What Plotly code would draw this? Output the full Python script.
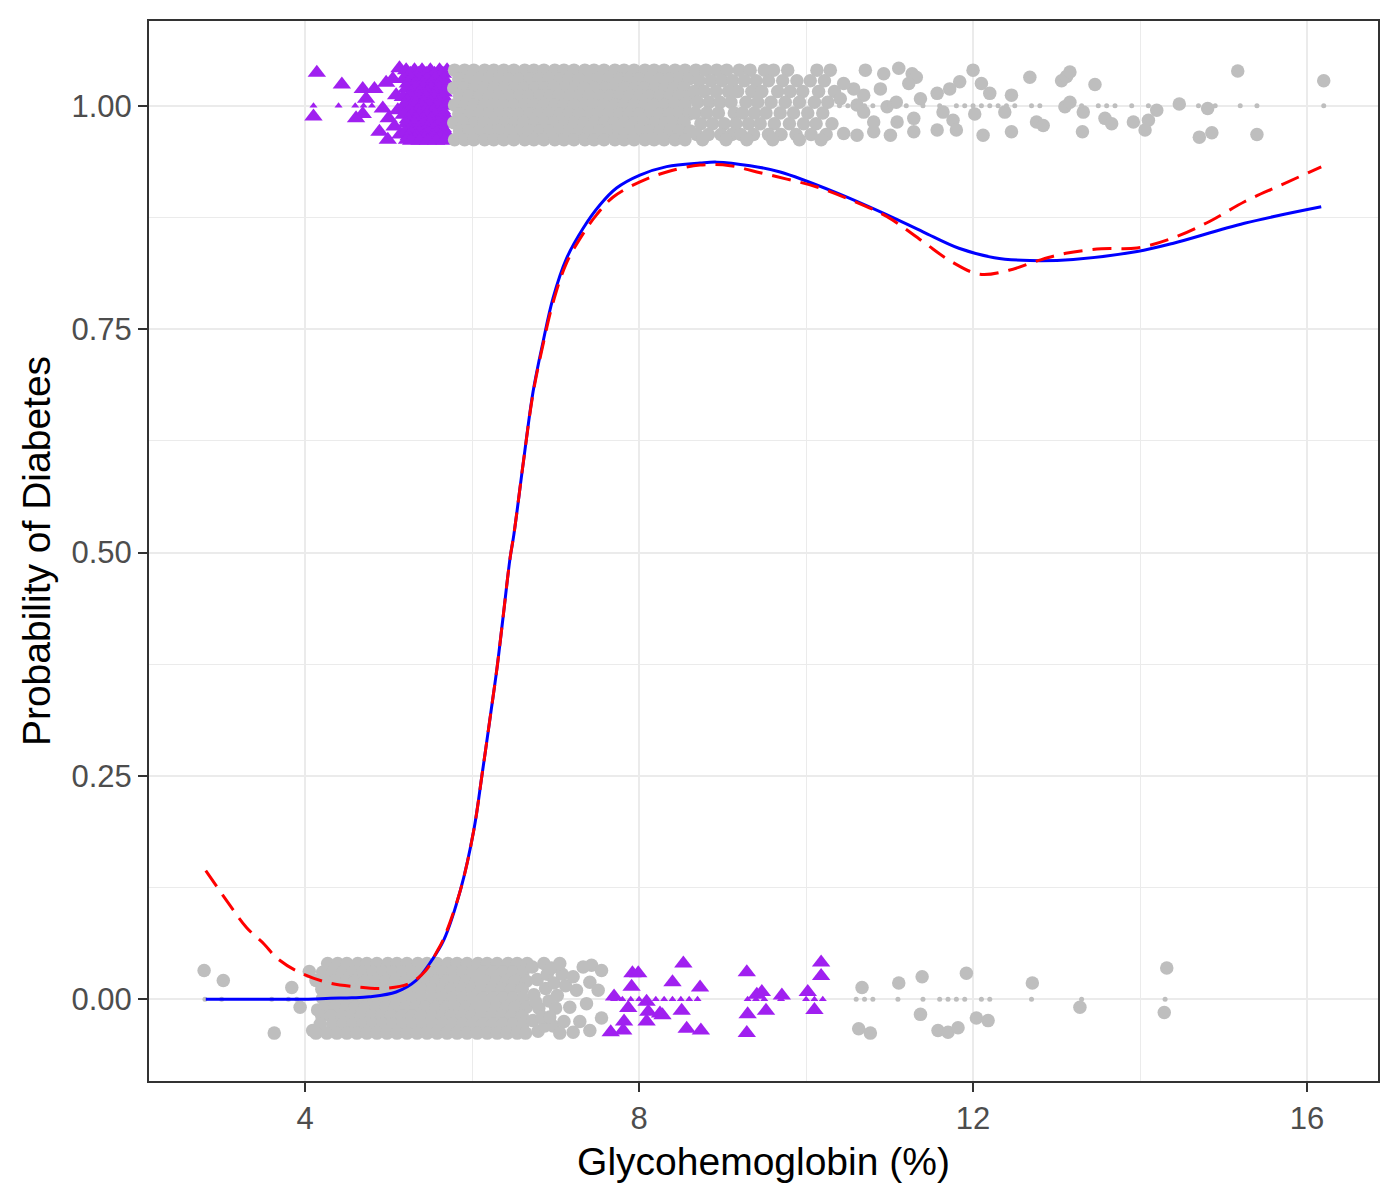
import plotly.graph_objects as go

# recorded glycohemoglobin values, drawn as small marks on y = 0 / 1
obs_top_purple_x = [4.1, 4.4, 4.6, 4.7, 4.8]
obs_top_gray_x = [10.4, 10.5, 10.6, 10.7, 10.8, 11.0, 11.2, 11.4, 11.6, 11.8, 11.9, 12.0,
                  12.1, 12.2, 12.3, 12.4, 12.5, 12.7, 12.8, 13.3, 13.5, 13.6, 13.7, 13.9,
                  14.1, 14.7, 14.9, 15.2, 15.4, 16.2]
obs_bot_gray_x = [2.8, 3.0, 3.6, 3.8, 3.9, 10.6, 10.7, 10.8, 11.1, 11.4, 11.6, 11.7, 11.8,
                  11.9, 12.1, 12.2, 12.7, 13.3, 14.3]
obs_bot_purple_x = [7.7, 7.8, 7.9, 8.0, 8.2, 8.3, 8.4, 8.5, 8.6, 8.7, 9.3, 9.4, 9.5, 9.7,
                    10.0, 10.1, 10.2]

# jittered copies (x, y)
jit_top_purple = [
    (4.14, 1.037), (4.10, 0.988), (4.44, 1.024), (4.69, 1.019), (4.83, 1.019), (4.97, 1.026),
    (4.73, 1.008), (4.61, 0.986), (4.69, 0.991), (4.93, 0.997), (4.89, 0.971), (4.99, 0.962),
    (5.00, 0.986), (5.09, 1.012), (5.13, 1.042), (5.07, 0.977), (5.05, 1.030), (5.11, 0.995),
    (5.14, 0.968),
    (5.21, 1.040), (5.31, 1.040), (5.40, 1.040), (5.50, 1.040), (5.61, 1.040), (5.70, 1.040),
    (5.26, 1.036), (5.36, 1.036), (5.45, 1.036), (5.55, 1.036), (5.65, 1.036),
    (5.18, 1.030), (5.27, 1.030), (5.36, 1.030), (5.46, 1.030), (5.56, 1.030), (5.66, 1.030),
    (5.23, 1.025), (5.32, 1.025), (5.41, 1.025), (5.51, 1.025), (5.61, 1.025), (5.70, 1.025),
    (5.22, 1.020), (5.32, 1.020), (5.41, 1.020), (5.51, 1.020), (5.60, 1.020), (5.71, 1.020),
    (5.27, 1.015), (5.37, 1.015), (5.46, 1.015), (5.56, 1.015), (5.66, 1.015),
    (5.17, 1.010), (5.26, 1.010), (5.37, 1.010), (5.45, 1.010), (5.55, 1.010), (5.65, 1.010),
    (5.22, 1.005), (5.31, 1.005), (5.42, 1.005), (5.50, 1.005), (5.60, 1.005), (5.70, 1.005),
    (5.20, 1.000), (5.30, 1.000), (5.40, 1.000), (5.49, 1.000), (5.59, 1.000), (5.69, 1.000),
    (5.25, 0.995), (5.35, 0.995), (5.44, 0.995), (5.54, 0.995), (5.64, 0.995),
    (5.18, 0.990), (5.28, 0.990), (5.36, 0.990), (5.46, 0.990), (5.56, 0.990), (5.66, 0.990),
    (5.23, 0.985), (5.33, 0.985), (5.41, 0.985), (5.51, 0.985), (5.61, 0.985), (5.71, 0.985),
    (5.21, 0.980), (5.31, 0.980), (5.41, 0.980), (5.50, 0.980), (5.60, 0.980), (5.70, 0.980),
    (5.26, 0.975), (5.36, 0.975), (5.46, 0.975), (5.55, 0.975), (5.65, 0.975),
    (5.19, 0.970), (5.27, 0.970), (5.37, 0.970), (5.47, 0.970), (5.57, 0.970), (5.67, 0.970),
    (5.24, 0.966), (5.33, 0.966), (5.42, 0.966), (5.52, 0.966), (5.62, 0.966), (5.71, 0.966),
    (5.22, 0.962), (5.32, 0.962), (5.42, 0.962), (5.52, 0.962), (5.62, 0.962), (5.71, 0.962),
    (5.27, 0.961), (5.37, 0.961), (5.47, 0.961), (5.57, 0.961), (5.67, 0.961),
]

jit_top_gray = [
    # dense block
    (5.79, 1.040), (5.91, 1.040), (6.02, 1.040), (6.15, 1.040), (6.26, 1.040), (6.38, 1.040),
    (6.50, 1.040), (6.63, 1.040), (6.74, 1.040), (6.86, 1.040), (6.99, 1.040), (7.10, 1.040),
    (7.22, 1.040), (7.35, 1.040), (7.46, 1.040), (7.58, 1.040), (7.71, 1.040), (7.82, 1.040),
    (7.94, 1.040), (8.07, 1.040), (8.18, 1.040), (8.30, 1.040), (8.43, 1.040), (8.55, 1.040),
    (5.84, 1.030), (5.97, 1.030), (6.08, 1.030), (6.20, 1.030), (6.33, 1.030), (6.44, 1.030),
    (6.56, 1.030), (6.69, 1.030), (6.80, 1.030), (6.92, 1.030), (7.05, 1.030), (7.16, 1.030),
    (7.28, 1.030), (7.41, 1.030), (7.52, 1.030), (7.64, 1.030), (7.77, 1.030), (7.88, 1.030),
    (8.00, 1.030), (8.13, 1.030), (8.24, 1.030), (8.36, 1.030), (8.49, 1.030), (8.60, 1.030),
    (5.78, 1.020), (5.90, 1.020), (6.03, 1.020), (6.14, 1.020), (6.27, 1.020), (6.39, 1.020),
    (6.51, 1.020), (6.62, 1.020), (6.75, 1.020), (6.87, 1.020), (6.98, 1.020), (7.11, 1.020),
    (7.23, 1.020), (7.34, 1.020), (7.47, 1.020), (7.59, 1.020), (7.70, 1.020), (7.83, 1.020),
    (7.95, 1.020), (8.06, 1.020), (8.19, 1.020), (8.31, 1.020), (8.42, 1.020), (8.54, 1.020),
    (5.85, 1.011), (5.96, 1.011), (6.09, 1.011), (6.21, 1.011), (6.32, 1.011), (6.45, 1.011),
    (6.57, 1.011), (6.68, 1.011), (6.81, 1.011), (6.93, 1.011), (7.04, 1.011), (7.17, 1.011),
    (7.29, 1.011), (7.40, 1.011), (7.53, 1.011), (7.65, 1.011), (7.76, 1.011), (7.89, 1.011),
    (8.01, 1.011), (8.12, 1.011), (8.25, 1.011), (8.37, 1.011), (8.48, 1.011), (8.61, 1.011),
    (5.79, 1.001), (5.91, 1.001), (6.02, 1.001), (6.15, 1.001), (6.26, 1.001), (6.38, 1.001),
    (6.50, 1.001), (6.63, 1.001), (6.74, 1.001), (6.86, 1.001), (6.99, 1.001), (7.10, 1.001),
    (7.22, 1.001), (7.35, 1.001), (7.46, 1.001), (7.58, 1.001), (7.71, 1.001), (7.82, 1.001),
    (7.94, 1.001), (8.07, 1.001), (8.18, 1.001), (8.30, 1.001), (8.43, 1.001), (8.55, 1.001),
    (5.84, 0.991), (5.97, 0.991), (6.08, 0.991), (6.20, 0.991), (6.33, 0.991), (6.44, 0.991),
    (6.56, 0.991), (6.69, 0.991), (6.80, 0.991), (6.92, 0.991), (7.05, 0.991), (7.16, 0.991),
    (7.28, 0.991), (7.41, 0.991), (7.52, 0.991), (7.64, 0.991), (7.77, 0.991), (7.88, 0.991),
    (8.00, 0.991), (8.13, 0.991), (8.24, 0.991), (8.36, 0.991), (8.49, 0.991), (8.60, 0.991),
    (5.78, 0.981), (5.90, 0.981), (6.03, 0.981), (6.14, 0.981), (6.27, 0.981), (6.39, 0.981),
    (6.51, 0.981), (6.62, 0.981), (6.75, 0.981), (6.87, 0.981), (6.98, 0.981), (7.11, 0.981),
    (7.23, 0.981), (7.34, 0.981), (7.47, 0.981), (7.59, 0.981), (7.70, 0.981), (7.83, 0.981),
    (7.95, 0.981), (8.06, 0.981), (8.19, 0.981), (8.31, 0.981), (8.42, 0.981), (8.54, 0.981),
    (5.85, 0.972), (5.96, 0.972), (6.09, 0.972), (6.21, 0.972), (6.32, 0.972), (6.45, 0.972),
    (6.57, 0.972), (6.68, 0.972), (6.81, 0.972), (6.93, 0.972), (7.04, 0.972), (7.17, 0.972),
    (7.29, 0.972), (7.40, 0.972), (7.53, 0.972), (7.65, 0.972), (7.76, 0.972), (7.89, 0.972),
    (8.01, 0.972), (8.12, 0.972), (8.25, 0.972), (8.37, 0.972), (8.48, 0.972), (8.61, 0.972),
    (5.79, 0.962), (5.91, 0.962), (6.02, 0.962), (6.15, 0.962), (6.26, 0.962), (6.38, 0.962),
    (6.50, 0.962), (6.63, 0.962), (6.74, 0.962), (6.86, 0.962), (6.99, 0.962), (7.10, 0.962),
    (7.22, 0.962), (7.35, 0.962), (7.46, 0.962), (7.58, 0.962), (7.71, 0.962), (7.82, 0.962),
    (7.94, 0.962), (8.07, 0.962), (8.18, 0.962), (8.30, 0.962), (8.43, 0.962), (8.55, 0.962),
    # thinning out
    (8.68, 1.040), (8.80, 1.040), (8.93, 1.040), (9.05, 1.040), (9.20, 1.040), (9.33, 1.040),
    (9.50, 1.040), (9.61, 1.040), (9.78, 1.040), (10.13, 1.040), (10.29, 1.040),
    (8.72, 1.028), (8.86, 1.028), (8.99, 1.028), (9.12, 1.028), (9.26, 1.028), (9.40, 1.028),
    (9.55, 1.028), (9.72, 1.028), (9.89, 1.028), (10.05, 1.028), (10.22, 1.028),
    (8.66, 1.016), (8.78, 1.016), (8.92, 1.016), (9.07, 1.016), (9.18, 1.016), (9.35, 1.016),
    (9.47, 1.016), (9.66, 1.016), (9.81, 1.016), (9.96, 1.016), (10.15, 1.016), (10.34, 1.016),
    (8.70, 1.004), (8.84, 1.004), (8.97, 1.004), (9.10, 1.004), (9.28, 1.004), (9.42, 1.004),
    (9.58, 1.004), (9.75, 1.004), (9.92, 1.004), (10.10, 1.004), (10.26, 1.004),
    (8.67, 0.992), (8.81, 0.992), (8.95, 0.992), (9.14, 0.992), (9.24, 0.992), (9.38, 0.992),
    (9.52, 0.992), (9.69, 0.992), (9.85, 0.992), (10.02, 0.992), (10.20, 0.992),
    (8.74, 0.980), (8.88, 0.980), (9.02, 0.980), (9.16, 0.980), (9.31, 0.980), (9.45, 0.980),
    (9.62, 0.980), (9.80, 0.980), (9.97, 0.980), (10.12, 0.980), (10.31, 0.980),
    (8.69, 0.968), (8.83, 0.968), (8.98, 0.968), (9.11, 0.968), (9.22, 0.968), (9.37, 0.968),
    (9.55, 0.968), (9.70, 0.968), (9.88, 0.968), (10.06, 0.968), (10.24, 0.968),
    (8.76, 0.962), (9.04, 0.962), (9.29, 0.962), (9.60, 0.962), (9.92, 0.962), (10.18, 0.962),
    # sparse tail
    (10.71, 1.040), (10.93, 1.036), (11.11, 1.042), (11.27, 1.036), (11.32, 1.032), (12.00, 1.040),
    (12.68, 1.032), (11.23, 1.025), (10.89, 1.019), (12.10, 1.025), (12.20, 1.014), (12.46, 1.012),
    (11.84, 1.027), (11.72, 1.019), (11.57, 1.014), (11.37, 1.008), (11.08, 1.004), (10.97, 0.999),
    (10.69, 1.012), (10.57, 1.019), (10.45, 1.025), (10.41, 1.008), (10.61, 1.001), (10.69, 0.993),
    (10.81, 0.982), (11.09, 0.982), (11.29, 0.986), (11.64, 0.993), (11.76, 0.984), (12.02, 0.991),
    (12.38, 0.993), (11.80, 0.973), (12.12, 0.967), (12.46, 0.971), (12.76, 0.982), (11.57, 0.973),
    (11.29, 0.971), (11.01, 0.967), (10.81, 0.971), (10.61, 0.967), (10.45, 0.969),
    (12.84, 0.978), (13.06, 1.028), (13.12, 1.033), (13.16, 1.038), (13.46, 1.024), (13.10, 0.999),
    (13.16, 1.004), (13.32, 0.993), (13.31, 0.971), (13.58, 0.986), (13.66, 0.980), (13.92, 0.982),
    (14.10, 0.984), (14.06, 0.973), (14.20, 0.995), (14.47, 1.002), (14.81, 0.997), (14.71, 0.965),
    (14.86, 0.970), (15.17, 1.039), (15.40, 0.968), (16.20, 1.028),
]

jit_bot_gray = [
    # sparse left
    (2.79, 0.032), (3.02, 0.021), (3.84, 0.013), (3.94, -0.009), (3.63, -0.038), (4.05, 0.031),
    (4.13, 0.021), (4.09, -0.035), (4.15, -0.012),
    # dense block
    (4.27, 0.040), (4.39, 0.040), (4.50, 0.040), (4.63, 0.040), (4.74, 0.040), (4.86, 0.040),
    (4.99, 0.040), (5.10, 0.040), (5.22, 0.040), (5.35, 0.040), (5.46, 0.040), (5.58, 0.040),
    (5.71, 0.040), (5.82, 0.040), (5.94, 0.040), (6.07, 0.040), (6.18, 0.040), (6.30, 0.040),
    (6.43, 0.040), (6.54, 0.040), (6.66, 0.040),
    (4.21, 0.030), (4.33, 0.030), (4.45, 0.030), (4.57, 0.030), (4.69, 0.030), (4.81, 0.030),
    (4.93, 0.030), (5.05, 0.030), (5.17, 0.030), (5.29, 0.030), (5.41, 0.030), (5.53, 0.030),
    (5.65, 0.030), (5.77, 0.030), (5.89, 0.030), (6.01, 0.030), (6.13, 0.030), (6.25, 0.030),
    (6.37, 0.030), (6.49, 0.030), (6.61, 0.030),
    (4.24, 0.020), (4.36, 0.020), (4.49, 0.020), (4.60, 0.020), (4.72, 0.020), (4.85, 0.020),
    (4.97, 0.020), (5.08, 0.020), (5.21, 0.020), (5.33, 0.020), (5.44, 0.020), (5.57, 0.020),
    (5.69, 0.020), (5.80, 0.020), (5.93, 0.020), (6.05, 0.020), (6.16, 0.020), (6.29, 0.020),
    (6.41, 0.020), (6.52, 0.020), (6.65, 0.020),
    (4.20, 0.011), (4.31, 0.011), (4.44, 0.011), (4.56, 0.011), (4.67, 0.011), (4.80, 0.011),
    (4.92, 0.011), (5.03, 0.011), (5.16, 0.011), (5.28, 0.011), (5.39, 0.011), (5.52, 0.011),
    (5.64, 0.011), (5.75, 0.011), (5.88, 0.011), (6.00, 0.011), (6.11, 0.011), (6.24, 0.011),
    (6.36, 0.011), (6.47, 0.011), (6.60, 0.011),
    (4.21, 0.001), (4.33, 0.001), (4.45, 0.001), (4.57, 0.001), (4.69, 0.001), (4.81, 0.001),
    (4.93, 0.001), (5.05, 0.001), (5.17, 0.001), (5.29, 0.001), (5.41, 0.001), (5.53, 0.001),
    (5.65, 0.001), (5.77, 0.001), (5.89, 0.001), (6.01, 0.001), (6.13, 0.001), (6.25, 0.001),
    (6.37, 0.001), (6.49, 0.001), (6.61, 0.001),
    (4.24, -0.009), (4.36, -0.009), (4.49, -0.009), (4.60, -0.009), (4.72, -0.009), (4.85, -0.009),
    (4.97, -0.009), (5.08, -0.009), (5.21, -0.009), (5.33, -0.009), (5.44, -0.009), (5.57, -0.009),
    (5.69, -0.009), (5.80, -0.009), (5.93, -0.009), (6.05, -0.009), (6.16, -0.009), (6.29, -0.009),
    (6.41, -0.009), (6.52, -0.009), (6.65, -0.009),
    (4.20, -0.019), (4.31, -0.019), (4.44, -0.019), (4.56, -0.019), (4.67, -0.019), (4.80, -0.019),
    (4.92, -0.019), (5.03, -0.019), (5.16, -0.019), (5.28, -0.019), (5.39, -0.019), (5.52, -0.019),
    (5.64, -0.019), (5.75, -0.019), (5.88, -0.019), (6.00, -0.019), (6.11, -0.019), (6.24, -0.019),
    (6.36, -0.019), (6.47, -0.019), (6.60, -0.019),
    (4.18, -0.028), (4.33, -0.028), (4.45, -0.028), (4.57, -0.028), (4.69, -0.028), (4.81, -0.028),
    (4.93, -0.028), (5.05, -0.028), (5.17, -0.028), (5.29, -0.028), (5.41, -0.028), (5.53, -0.028),
    (5.65, -0.028), (5.77, -0.028), (5.89, -0.028), (6.01, -0.028), (6.13, -0.028), (6.25, -0.028),
    (6.37, -0.028), (6.49, -0.028), (6.61, -0.028),
    (4.13, -0.038), (4.26, -0.038), (4.38, -0.038), (4.50, -0.038), (4.62, -0.038), (4.74, -0.038),
    (4.86, -0.038), (4.98, -0.038), (5.10, -0.038), (5.22, -0.038), (5.34, -0.038), (5.46, -0.038),
    (5.58, -0.038), (5.70, -0.038), (5.82, -0.038), (5.94, -0.038), (6.06, -0.038), (6.18, -0.038),
    (6.30, -0.038), (6.42, -0.038), (6.54, -0.038), (6.64, -0.038),
    # thinning out
    (6.72, 0.036), (6.78, 0.022), (6.74, 0.005), (6.80, -0.010), (6.73, -0.024), (6.79, -0.036),
    (6.86, 0.040), (6.90, 0.028), (6.88, 0.012), (6.92, -0.002), (6.87, -0.030), (6.95, 0.035),
    (6.98, 0.018), (7.00, -0.010), (6.97, -0.030), (7.02, 0.004), (7.08, 0.028), (7.10, -0.025),
    (7.12, 0.015), (6.84, -0.020), (6.76, -0.003),
    (7.43, 0.038), (7.55, 0.032), (7.41, 0.019), (7.51, 0.010), (7.55, -0.021), (7.41, -0.035),
    (7.21, -0.037), (7.29, -0.025), (7.05, -0.038), (7.21, 0.025), (7.05, 0.040), (7.25, 0.010),
    (7.17, -0.009), (6.93, -0.020), (7.33, 0.036), (7.37, -0.005),
    # sparse right
    (10.67, 0.013), (11.11, 0.018), (11.39, 0.025), (11.92, 0.029), (11.37, -0.017), (12.04, -0.021),
    (12.18, -0.024), (10.63, -0.033), (10.77, -0.038), (11.58, -0.035), (11.70, -0.037), (11.82, -0.032),
    (12.71, 0.018), (13.28, -0.009), (14.32, 0.035), (14.29, -0.015),
]

jit_bot_purple = [
    (7.70, 0.003), (7.66, -0.037), (7.81, -0.035), (7.82, -0.025), (7.87, -0.010), (7.91, 0.014),
    (7.92, 0.029), (7.99, 0.029), (8.09, -0.003), (8.11, -0.014), (8.09, -0.025), (8.25, -0.016),
    (8.28, -0.018), (8.53, 0.040), (8.40, 0.019), (8.51, -0.013), (8.57, -0.033), (8.74, -0.035),
    (8.73, 0.013), (9.29, 0.030), (9.30, -0.017), (9.29, -0.038), (9.41, 0.005), (9.47, 0.008),
    (9.52, -0.013), (9.71, 0.004), (10.02, 0.008), (10.10, -0.012), (10.18, 0.041), (10.18, 0.026),
]

# fitted probability curves
blue_x = [2.81, 3.50, 4.00, 4.30, 4.56, 4.77, 5.09, 5.33, 5.52, 5.66, 5.86, 6.02, 6.12, 6.22,
          6.30, 6.37, 6.455, 6.50, 6.615, 6.73, 6.85, 6.97, 7.13, 7.33, 7.53, 7.73, 8.01, 8.33,
          8.73, 8.93, 9.33, 9.69, 10.33, 10.97, 11.40, 11.83, 12.255, 12.68, 13.20, 13.965,
          14.39, 15.25, 16.17]
blue_y = [0.000, 0.000, 0.000, 0.001, 0.0015, 0.0026, 0.008, 0.021, 0.044, 0.066, 0.122, 0.189,
          0.252, 0.318, 0.372, 0.427, 0.494, 0.520, 0.602, 0.680, 0.736, 0.785, 0.829, 0.863,
          0.889, 0.908, 0.9225, 0.932, 0.936, 0.937, 0.933, 0.926, 0.904, 0.878, 0.859, 0.8406,
          0.830, 0.8268, 0.828, 0.837, 0.846, 0.8686, 0.887]

red_x = [2.81, 3.10, 3.30, 3.51, 3.65, 3.89, 4.25, 4.61, 4.93, 5.25, 5.445, 5.565, 5.66, 5.86,
         6.02, 6.12, 6.22, 6.30, 6.37, 6.455, 6.50, 6.615, 6.73, 6.85, 6.97, 7.13, 7.33, 7.49,
         7.69, 8.01, 8.33, 8.73, 9.09, 9.41, 9.77, 10.12, 10.54, 10.97, 11.40, 11.74, 12.08,
         12.43, 12.77, 13.11, 13.54, 13.965, 14.39, 14.82, 15.25, 15.68, 16.17]
red_y = [0.144, 0.105, 0.080, 0.0615, 0.047, 0.032, 0.019, 0.0138, 0.012, 0.0175, 0.032, 0.051,
         0.068, 0.122, 0.189, 0.252, 0.318, 0.372, 0.427, 0.494, 0.520, 0.602, 0.678, 0.733,
         0.780, 0.824, 0.857, 0.878, 0.898, 0.915, 0.926, 0.9337, 0.933, 0.926, 0.918, 0.9095,
         0.8946, 0.876, 0.848, 0.8257, 0.8115, 0.816, 0.8265, 0.835, 0.840, 0.841, 0.852,
         0.870, 0.8927, 0.911, 0.9318]

GRAY = "#BEBEBE"
PURPLE = "#A020F0"


def split(pairs):
    return [p[0] for p in pairs], [p[1] for p in pairs]


fig = go.Figure()

for pairs, color, symbol, size in [
    (jit_top_purple, PURPLE, "triangle-up", 16),
    (jit_top_gray, GRAY, "circle", 13.5),
    (jit_bot_gray, GRAY, "circle", 13.5),
    (jit_bot_purple, PURPLE, "triangle-up", 16),
]:
    xs, ys = split(pairs)
    fig.add_trace(go.Scatter(x=xs, y=ys, mode="markers",
                             marker=dict(color=color, symbol=symbol, size=size, line_width=0)))

# the unjittered observations
for xs, yval, color, symbol, size in [
    (obs_top_gray_x, 1, GRAY, "circle", 5),
    (obs_bot_gray_x, 0, GRAY, "circle", 5),
    (obs_top_purple_x, 1, PURPLE, "triangle-up", 7),
    (obs_bot_purple_x, 0, PURPLE, "triangle-up", 7),
]:
    fig.add_trace(go.Scatter(x=xs, y=[yval] * len(xs), mode="markers",
                             marker=dict(color=color, symbol=symbol, size=size, line_width=0)))

fig.add_trace(go.Scatter(x=blue_x, y=blue_y, mode="lines",
                         line=dict(color="#0000FF", width=3, shape="spline")))
fig.add_trace(go.Scatter(x=red_x, y=red_y, mode="lines",
                         line=dict(color="#FF0000", width=3, dash="19px,10px", shape="spline")))

axis_style = dict(
    showgrid=True, gridcolor="#EBEBEB", gridwidth=2,
    showline=True, mirror=True, linecolor="#333333", linewidth=2,
    ticks="outside", ticklen=9, tickwidth=2, tickcolor="#333333",
    tickfont=dict(size=31, color="#4D4D4D"),
    zeroline=False,
)

# the page body adds an 8px margin, so the figure is a little smaller than the window
fig.update_layout(
    width=1392, height=1192,
    margin=dict(l=141, r=22, t=11, b=119),
    plot_bgcolor="white", paper_bgcolor="white",
    showlegend=False,
    font=dict(family="Liberation Sans, Arial, sans-serif", color="black"),
)
fig.update_xaxes(
    range=[2.13, 16.85], tick0=0, dtick=4,
    minor=dict(tick0=0, dtick=2, showgrid=True, gridcolor="#EBEBEB", gridwidth=1),
    title=dict(text="Glycohemoglobin (%)", font=dict(size=39, color="black"), standoff=12),
    **axis_style,
)
fig.update_yaxes(
    range=[-0.0916, 1.095], tick0=0, dtick=0.25, tickformat=".2f",
    minor=dict(tick0=0, dtick=0.125, showgrid=True, gridcolor="#EBEBEB", gridwidth=1),
    title=dict(text="Probability of Diabetes", font=dict(size=39, color="black"), standoff=9),
    **axis_style,
)

fig.write_html("out.html")
